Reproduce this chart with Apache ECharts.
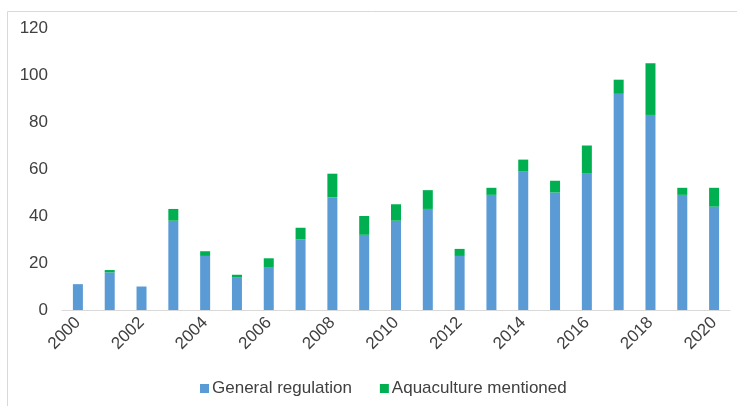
<!DOCTYPE html>
<html><head><meta charset="utf-8">
<script src="https://cdn.jsdelivr.net/npm/echarts@6/dist/echarts.min.js"></script>
<style>html,body{margin:0;padding:0;background:#fff}#c{width:737px;height:406px}</style>
</head><body><div id="c"></div>
<script>
const years = ['2000','2001','2002','2003','2004','2005','2006','2007','2008','2009','2010','2011','2012','2013','2014','2015','2016','2017','2018','2019','2020'];
const generalRegulation = [11,16,10,38,23,14,18,30,48,32,38,43,23,49,59,50,58,92,83,49,44];
const aquacultureMentioned = [0,1,0,5,2,1,4,5,10,8,7,8,3,3,5,5,12,6,22,3,8];
const yTicks = [0,20,40,60,80,100,120];

const chart = echarts.init(document.getElementById('c'));
chart.setOption({
  animation: false,
  textStyle: { fontFamily: 'Liberation Sans, Arial, sans-serif' },
  graphic: [{
    type: 'rect', shape: { x: 7.5, y: 11.5, width: 740, height: 420 },
    style: { fill: 'none', stroke: '#d9d9d9', lineWidth: 1 }, silent: true
  }],
  grid: { left: 62, right: 7, top: 28, bottom: 96, containLabel: false },
  legend: {
    left: 195, top: 375, itemWidth: 9, itemHeight: 9, itemGap: 28, icon: 'rect',
    textStyle: { color: '#404040', fontSize: 17, padding: [0, 0, 0, -2] },
    data: ['General regulation', 'Aquaculture mentioned']
  },
  xAxis: {
    type: 'category', data: years,
    axisLine: { lineStyle: { color: '#d9d9d9' } },
    axisTick: { show: false },
    axisLabel: { rotate: 45, interval: 1, color: '#404040', fontSize: 17, margin: 10 }
  },
  yAxis: {
    type: 'value', min: yTicks[0], max: yTicks[yTicks.length - 1], interval: 20,
    splitLine: { show: false },
    axisLine: { show: false }, axisTick: { show: false },
    axisLabel: { color: '#404040', fontSize: 17, margin: 14 }
  },
  series: [
    { name: 'General regulation', type: 'bar', stack: 's', data: generalRegulation, barWidth: 10, itemStyle: { color: '#5b9bd5' } },
    { name: 'Aquaculture mentioned', type: 'bar', stack: 's', data: aquacultureMentioned, barWidth: 10, itemStyle: { color: '#00b050' } }
  ]
});
</script></body></html>
